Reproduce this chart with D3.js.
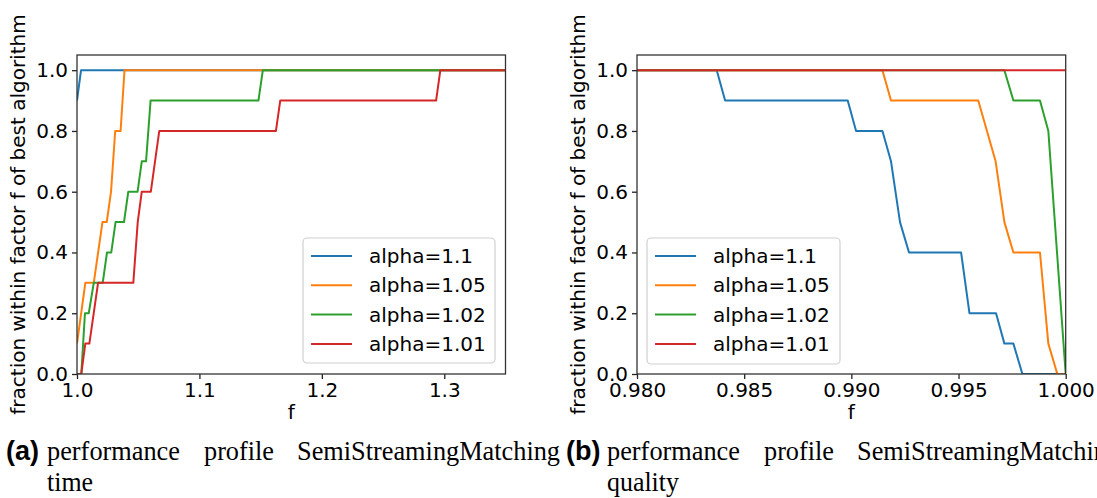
<!DOCTYPE html>
<html>
<head>
<meta charset="utf-8">
<script src="https://cdn.jsdelivr.net/npm/d3@7"></script>
<style>
  body { margin: 0; background: #fff; }
  svg { display: block; }
</style>
</head>
<body>
<svg id="chart" width="1097" height="498"></svg>
<script>
// legend labels + matplotlib tab10 colours
const seriesNames = ["alpha=1.1", "alpha=1.05", "alpha=1.02", "alpha=1.01"];
const colors = ["#1f77b4", "#ff7f0e", "#2ca02c", "#d62728"];

// (a) time profile, f values and fractions per series
const timeF = [
  [1.0, 1.0033, 1.35],
  [1.0, 1.0068, 1.0137, 1.0208, 1.0243, 1.0278, 1.0312, 1.0356, 1.0388, 1.35],
  [1.0035, 1.0065, 1.0096, 1.0137, 1.021, 1.0245, 1.028, 1.0315, 1.0384, 1.0419, 1.0495, 1.0529, 1.0564, 1.0601, 1.1482, 1.1518, 1.35],
  [1.0, 1.0035, 1.0068, 1.0101, 1.0172, 1.046, 1.0496, 1.0529, 1.0603, 1.0672, 1.1625, 1.166, 1.2933, 1.2968, 1.35]
];
const timeP = [
  [0.9, 1.0, 1.0],
  [0.1, 0.3, 0.3, 0.5, 0.5, 0.6, 0.8, 0.8, 1.0, 1.0],
  [0.0, 0.2, 0.2, 0.3, 0.3, 0.4, 0.4, 0.5, 0.5, 0.6, 0.6, 0.7, 0.7, 0.9, 0.9, 1.0, 1.0],
  [0.0, 0.0, 0.1, 0.1, 0.3, 0.3, 0.5, 0.6, 0.6, 0.8, 0.8, 0.9, 0.9, 1.0, 1.0]
];

// (b) quality profile
const qualF = [
  [0.98, 0.98372, 0.98411, 0.98983, 0.99022, 0.99145, 0.99185, 0.99227, 0.99269, 0.99512, 0.99551, 0.99675, 0.99714, 0.99756, 0.99798, 1.0],
  [0.98, 0.99145, 0.99185, 0.99592, 0.99673, 0.99714, 0.99756, 0.9988, 0.99919, 0.99961, 1.0],
  [0.98, 0.99714, 0.99756, 0.9988, 0.99919, 1.0],
  [0.98, 1.0]
];
const qualP = [
  [1.0, 1.0, 0.9, 0.9, 0.8, 0.8, 0.7, 0.5, 0.4, 0.4, 0.2, 0.2, 0.1, 0.1, 0.0, 0.0],
  [1.0, 1.0, 0.9, 0.9, 0.7, 0.5, 0.4, 0.4, 0.1, 0.0, 0.0],
  [1.0, 1.0, 0.9, 0.9, 0.8, 0.0],
  [1.0, 1.0]
];

const timeTicks = [1.0, 1.1, 1.2, 1.3];
const qualTicks = [0.980, 0.985, 0.990, 0.995, 1.000];
const fracTicks = [0.0, 0.2, 0.4, 0.6, 0.8, 1.0];

const yLabel = "fraction within factor f of best algorithm";
const xLabel = "f";
const captionWords = [
  ["performance", "profile", "SemiStreamingMatching", "time"],
  ["performance", "profile", "SemiStreamingMatching", "quality"]
];
const captionTags = ["(a)", "(b)"];

const svg = d3.select("#chart");
const font = "'DejaVu Sans', sans-serif";

function drawPanel(cfg) {
  const m = cfg.box; // left, top, right, bottom in pixels
  const g = svg.append("g");

  const x = d3.scaleLinear().domain(cfg.xDomain).range([m.left, m.right]);
  const y = d3.scaleLinear().domain([0, 1.05]).range([m.bottom, m.top]);

  const clipId = "clip" + cfg.id;
  svg.append("clipPath").attr("id", clipId)
    .append("rect")
      .attr("x", m.left).attr("y", m.top)
      .attr("width", m.right - m.left).attr("height", m.bottom - m.top);

  // axes
  const xAxis = d3.axisBottom(x).tickValues(cfg.xTicks).tickFormat(cfg.xFormat).tickSize(5).tickPadding(4);
  const yAxis = d3.axisLeft(y).tickValues(fracTicks).tickFormat(d3.format(".1f")).tickSize(5).tickPadding(4);

  const gx = g.append("g").attr("transform", `translate(0,${m.bottom})`).call(xAxis);
  const gy = g.append("g").attr("transform", `translate(${m.left},0)`).call(yAxis);
  [gx, gy].forEach(a => {
    a.select(".domain").remove();
    a.selectAll("line").attr("stroke", "#222").attr("stroke-width", 1.3);
    a.selectAll("text").attr("font-family", font).attr("font-size", 20).attr("fill", "#000");
  });

  // lines
  const line = d3.line().x(d => x(d[0])).y(d => y(d[1]));
  const lg = g.append("g").attr("clip-path", `url(#${clipId})`);
  cfg.fs.forEach((fs, i) => {
    const pts = fs.map((f, j) => [f, cfg.ps[i][j]]);
    lg.append("path")
      .datum(pts)
      .attr("d", line)
      .attr("fill", "none")
      .attr("stroke", colors[i])
      .attr("stroke-width", 2)
      .attr("stroke-linejoin", "round");
  });

  // frame
  g.append("rect")
    .attr("x", m.left).attr("y", m.top)
    .attr("width", m.right - m.left).attr("height", m.bottom - m.top)
    .attr("fill", "none").attr("stroke", "#333").attr("stroke-width", 1.3);

  // axis labels
  g.append("text")
    .attr("x", (m.left + m.right) / 2).attr("y", 419)
    .attr("text-anchor", "middle")
    .attr("font-family", font).attr("font-size", 20)
    .text(xLabel);
  g.append("text")
    .attr("transform", `translate(${m.left - 52},${(m.top + m.bottom) / 2}) rotate(-90)`)
    .attr("text-anchor", "middle")
    .attr("font-family", font).attr("font-size", 20)
    .text(yLabel);

  // legend
  const L = cfg.legend;
  const leg = g.append("g");
  leg.append("rect")
    .attr("x", L.x).attr("y", L.y).attr("width", L.w).attr("height", L.h)
    .attr("rx", 4)
    .attr("fill", "#fff").attr("fill-opacity", 0.8)
    .attr("stroke", "#d0d0d0").attr("stroke-width", 1.2);
  seriesNames.forEach((name, i) => {
    const cy = L.y + 18 + i * 29.3;
    leg.append("line")
      .attr("x1", L.x + 8).attr("x2", L.x + 49)
      .attr("y1", cy).attr("y2", cy)
      .attr("stroke", colors[i]).attr("stroke-width", 2);
    leg.append("text")
      .attr("x", L.x + 66).attr("y", cy + 7)
      .attr("font-family", font).attr("font-size", 20)
      .text(name);
  });

  // caption
  const ox = cfg.captionX;
  const words = captionWords[cfg.id];
  g.append("text")
    .attr("x", ox + 6).attr("y", 460)
    .attr("font-family", "'Liberation Sans', Arial, sans-serif").attr("font-weight", "bold")
    .attr("font-size", 27)
    .text(captionTags[cfg.id]);
  const wordPos = [[47, 460, 133], [204, 460, 70], [297, 460, 263], [47, 491, null]];
  words.forEach((w, i) => {
    const t = g.append("text")
      .attr("x", ox + wordPos[i][0]).attr("y", wordPos[i][1])
      .attr("font-family", "'Liberation Serif', 'Times New Roman', serif")
      .attr("font-size", 27)
      .text(w);
    if (wordPos[i][2]) t.attr("textLength", wordPos[i][2]).attr("lengthAdjust", "spacingAndGlyphs");
    else t.attr("transform", `translate(${ox + 47},0) scale(0.96,1) translate(${-(ox + 47)},0)`);
  });
}

drawPanel({
  id: 0,
  box: { left: 77, top: 55, right: 505.5, bottom: 374 },
  xDomain: [1.0, 1.35],
  xTicks: timeTicks,
  xFormat: d3.format(".1f"),
  fs: timeF, ps: timeP,
  legend: { x: 303, y: 238, w: 192, h: 125 },
  captionX: 0
});

drawPanel({
  id: 1,
  box: { left: 637, top: 55, right: 1065.7, bottom: 374 },
  xDomain: [0.98, 1.0],
  xTicks: qualTicks,
  xFormat: d3.format(".3f"),
  fs: qualF, ps: qualP,
  legend: { x: 647, y: 238, w: 193, h: 126 },
  captionX: 560
});
</script>
</body>
</html>
